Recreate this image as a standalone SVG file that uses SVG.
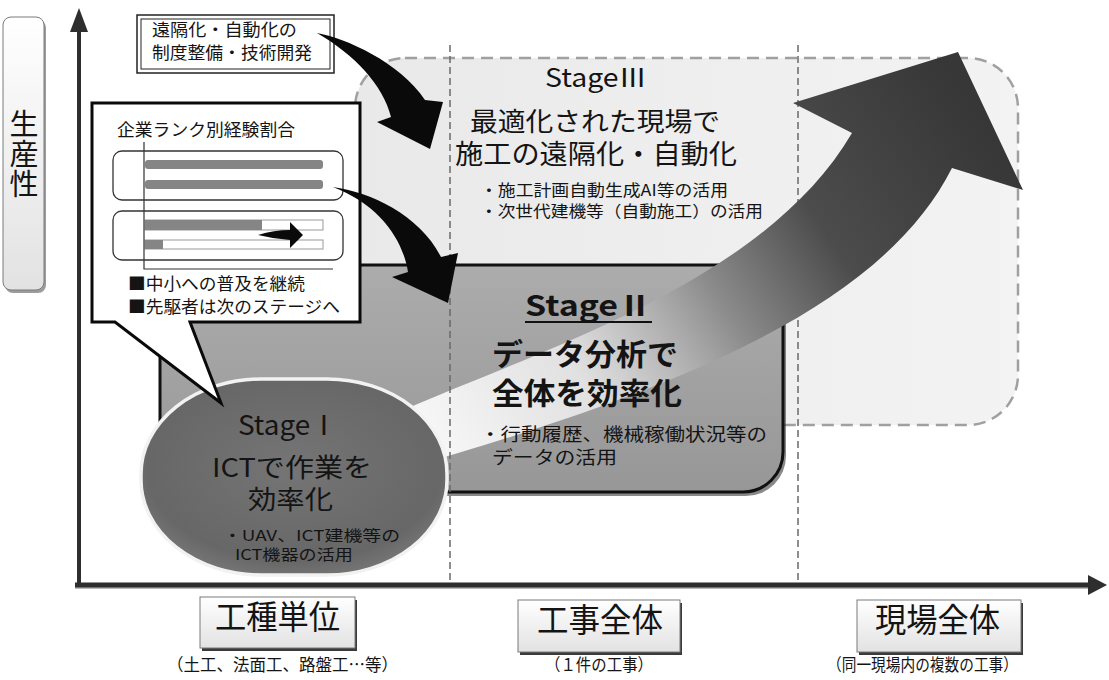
<svg xmlns="http://www.w3.org/2000/svg" width="1109" height="680" viewBox="0 0 1109 680">
<style>
.jp{font-family:'Noto Sans CJK JP','Noto Sans',sans-serif;fill:#141414}
.b{font-weight:bold}
.dash{stroke:#6a6a6a;stroke-width:1.5;stroke-dasharray:7 4;fill:none}
.thin{fill:#fff;stroke:#333;stroke-width:1.3}
.blk{fill:#0a0a0a}
.box{fill:url(#boxg);stroke:#7a7a7a;stroke-width:1}
.shadow{fill:#3a3a3a}
</style>
<defs>
<linearGradient id="s3g" x1="0" y1="0" x2="1" y2="0">
<stop offset="0" stop-color="#e9e9e9"/><stop offset="1" stop-color="#f3f3f3"/>
</linearGradient>
<linearGradient id="s2g" x1="0" y1="0" x2="0" y2="1">
<stop offset="0" stop-color="#acacac"/><stop offset="1" stop-color="#979797"/>
</linearGradient>
<radialGradient id="s1g" cx="0.5" cy="0.45" r="0.6">
<stop offset="0" stop-color="#757575"/><stop offset="0.8" stop-color="#676767"/><stop offset="1" stop-color="#7a7a7a"/>
</radialGradient>
<linearGradient id="arrg" gradientUnits="userSpaceOnUse" x1="430" y1="440" x2="960" y2="90">
<stop offset="0" stop-color="#ffffff" stop-opacity="0.92"/>
<stop offset="0.25" stop-color="#ececec" stop-opacity="0.85"/>
<stop offset="0.5" stop-color="#8c8c8c"/>
<stop offset="0.7" stop-color="#4c4c4c"/>
<stop offset="1" stop-color="#373737"/>
</linearGradient>
<linearGradient id="boxg" x1="0" y1="0" x2="0" y2="1">
<stop offset="0" stop-color="#ffffff"/><stop offset="1" stop-color="#e2e2e2"/>
</linearGradient>
</defs>

<g id="stage3">
<rect x="355" y="58" width="663" height="367" rx="50" fill="url(#s3g)" stroke="#a0a0a0" stroke-width="2.5" stroke-dasharray="12 7"/>
</g>
<line class="dash" x1="798" y1="45" x2="798" y2="585"/>

<g id="stage2">
<rect x="163" y="269" width="623" height="227" rx="40" class="shadow" opacity="0.6"/>
<rect x="160" y="265" width="623" height="227" rx="40" fill="url(#s2g)" stroke="#111" stroke-width="3"/>
</g>

<g id="growth-arrow">
<path d="M370 425 C520 355 760 290 852 133 L793 103 L958 52 L1023 190 L952 168 C885 300 700 385 400 470 Z" fill="url(#arrg)"/>
</g>
<line class="dash" x1="450" y1="45" x2="450" y2="585"/>

<g id="stage1">
<rect x="141" y="379" width="306" height="196" rx="120" ry="95" fill="url(#s1g)" stroke="#f2f2f2" stroke-width="3.5"/>
<text class="jp" x="238" y="435" font-size="27" textLength="100" lengthAdjust="spacingAndGlyphs">StageⅠ</text>
<text class="jp" x="212" y="477" font-size="26" textLength="160" lengthAdjust="spacingAndGlyphs">ICTで作業を</text>
<text class="jp" x="248" y="509" font-size="26" textLength="85" lengthAdjust="spacingAndGlyphs">効率化</text>
<text class="jp" x="223" y="541" font-size="15" textLength="177" lengthAdjust="spacingAndGlyphs">・UAV、ICT建機等の</text>
<text class="jp" x="235" y="560" font-size="15" textLength="118" lengthAdjust="spacingAndGlyphs">ICT機器の活用</text>
</g>

<g id="stage3-label">
<text class="jp" x="545" y="87" font-size="26" textLength="102" lengthAdjust="spacingAndGlyphs">StageⅢ</text>
<text class="jp" x="470" y="131" font-size="26" textLength="250" lengthAdjust="spacingAndGlyphs">最適化された現場で</text>
<text class="jp" x="455" y="164" font-size="27" textLength="282" lengthAdjust="spacingAndGlyphs">施工の遠隔化・自動化</text>
<text class="jp" x="480" y="196" font-size="16" textLength="248" lengthAdjust="spacingAndGlyphs">・施工計画自動生成AI等の活用</text>
<text class="jp" x="480" y="217" font-size="16" textLength="283" lengthAdjust="spacingAndGlyphs">・次世代建機等（自動施工）の活用</text>
</g>

<g id="stage2-label">
<text class="jp b" x="525" y="316" font-size="28" textLength="127" lengthAdjust="spacingAndGlyphs">StageⅡ</text>
<line x1="525" y1="322" x2="652" y2="322" stroke="#111" stroke-width="2"/>
<text class="jp b" x="492" y="365" font-size="30" textLength="186" lengthAdjust="spacingAndGlyphs">データ分析で</text>
<text class="jp b" x="492" y="404" font-size="30" textLength="190" lengthAdjust="spacingAndGlyphs">全体を効率化</text>
<text class="jp" x="480" y="441" font-size="18" textLength="287" lengthAdjust="spacingAndGlyphs">・行動履歴、機械稼働状況等の</text>
<text class="jp" x="492" y="464" font-size="18" textLength="125" lengthAdjust="spacingAndGlyphs">データの活用</text>
</g>

<g id="callout">
<path d="M92 103 H360 V322 H190 L221 403 L115 322 H92 Z" fill="#fff" stroke="#0a0a0a" stroke-width="3" stroke-linejoin="miter"/>
<text class="jp" x="117" y="136" font-size="17" textLength="178" lengthAdjust="spacingAndGlyphs">企業ランク別経験割合</text>
<rect class="thin" x="113" y="151" width="230" height="49" rx="9"/>
<rect class="thin" x="113" y="211" width="230" height="49" rx="9"/>
<rect x="145" y="160" width="178" height="9" rx="3" fill="#858585"/>
<rect x="145" y="180" width="178" height="9" rx="3" fill="#858585"/>
<rect x="145" y="220" width="178" height="10" fill="#fff" stroke="#999" stroke-width="1"/>
<rect x="145" y="220" width="117" height="10" fill="#858585"/>
<rect x="145" y="240" width="178" height="9" fill="#fff" stroke="#999" stroke-width="1"/>
<rect x="145" y="240" width="18" height="9" fill="#858585"/>
<path d="M258 235 Q274 230 290 230 L290 222 L303 235 L290 248 L290 240 Q274 239 258 235 Z" class="blk"/>
<polyline points="144,142 144,269 333,269" fill="none" stroke="#333" stroke-width="1.2"/>
<text class="jp" x="128" y="290" font-size="17" textLength="177" lengthAdjust="spacingAndGlyphs">■中小への普及を継続</text>
<text class="jp" x="128" y="313" font-size="17" textLength="212" lengthAdjust="spacingAndGlyphs">■先駆者は次のステージへ</text>
</g>

<g id="top-box">
<rect x="137" y="15" width="197" height="58" fill="#fff" stroke="#222" stroke-width="1.5"/>
<rect x="141" y="19" width="189" height="50" fill="none" stroke="#222" stroke-width="1"/>
<text class="jp" x="152" y="36" font-size="17" textLength="145" lengthAdjust="spacingAndGlyphs">遠隔化・自動化の</text>
<text class="jp" x="152" y="59" font-size="17" textLength="160" lengthAdjust="spacingAndGlyphs">制度整備・技術開発</text>
</g>

<g id="y-label">
<rect x="5" y="20" width="41" height="273" rx="8" class="shadow" opacity="0.5"/>
<rect x="3" y="17" width="41" height="273" rx="8" class="box" stroke="#555" stroke-width="1.5"/>
<text class="jp" x="24" y="109" font-size="29" writing-mode="vertical-rl" letter-spacing="1">生産性</text>
</g>

<g id="axes">
<line x1="79" y1="587" x2="79" y2="28" stroke="#2e2e2e" stroke-width="4"/>
<polygon points="70,32 88,32 79,8" fill="#2e2e2e"/>
<line x1="75" y1="587" x2="1090" y2="587" stroke="#777" stroke-width="4" opacity="0.5"/>
<line x1="75" y1="585" x2="1090" y2="585" stroke="#2e2e2e" stroke-width="5"/>
<polygon points="1088,575 1088,595 1107,585" fill="#2e2e2e"/>
</g>

<g id="x-label-1">
<rect x="202" y="600" width="155" height="51" class="shadow"/>
<rect x="200" y="597" width="155" height="51" class="box"/>
<text class="jp" x="215" y="629" font-size="33" textLength="125" lengthAdjust="spacingAndGlyphs">工種単位</text>
<text class="jp" x="167" y="671" font-size="17" textLength="231" lengthAdjust="spacingAndGlyphs">（土工、法面工、路盤工…等）</text>
</g>
<g id="x-label-2">
<rect x="520" y="603" width="162" height="52" class="shadow"/>
<rect x="518" y="600" width="162" height="52" class="box"/>
<text class="jp" x="537" y="632" font-size="33" textLength="126" lengthAdjust="spacingAndGlyphs">工事全体</text>
<text class="jp" x="545" y="671" font-size="17" textLength="108" lengthAdjust="spacingAndGlyphs">（１件の工事）</text>
</g>
<g id="x-label-3">
<rect x="859" y="603" width="164" height="52" class="shadow"/>
<rect x="857" y="600" width="164" height="52" class="box"/>
<text class="jp" x="875" y="632" font-size="33" textLength="125" lengthAdjust="spacingAndGlyphs">現場全体</text>
<text class="jp" x="827" y="671" font-size="17" textLength="191" lengthAdjust="spacingAndGlyphs">（同一現場内の複数の工事）</text>
</g>

<g id="connectors">
<path class="blk" d="M317 33 C345 38 400 62 425 100 L443 102 L430 149 L377 122 L391 117 C383 85 355 55 317 33 Z"/>
<path class="blk" d="M333 187 C370 192 420 215 441 257 L458 253 L448 303 L392 277 L408 272 C403 240 380 205 333 187 Z"/>
</g>
</svg>
